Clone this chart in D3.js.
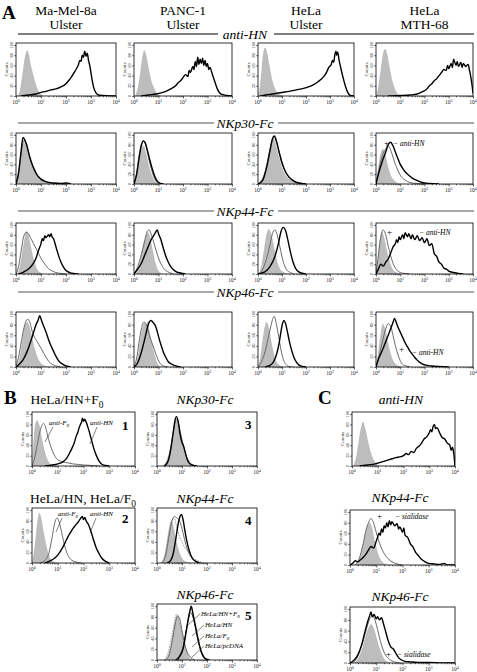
<!DOCTYPE html>
<html><head><meta charset="utf-8">
<script src="https://cdn.jsdelivr.net/npm/d3@7"></script>
<style>body{margin:0;background:#fff}svg{display:block}</style>
</head><body>
<svg id="c" width="477" height="672"></svg>
<script>
// ---------- categories / ticks ----------
const cellLines = ["Ma-Mel-8a", "PANC-1", "HeLa", "HeLa"];
const viruses = ["Ulster", "Ulster", "Ulster", "MTH-68"];
const reagentsA = ["anti-HN", "NKp30-Fc", "NKp44-Fc", "NKp46-Fc"];
const xTickExp = [0, 1, 2, 3, 4];
const yTicks = [0, 20, 40, 60, 80, 100];
const legendB5 = ["HeLa/HN+F", "HeLa/HN", "HeLa/F", "HeLa/pcDNA"];

// ---------- series: [log10 fluorescence, counts] ----------
// Row anti-HN
const a1_fill = [[0.05,0],[0.15,10],[0.25,40],[0.35,75],[0.45,90],[0.5,85],[0.6,60],[0.7,40],[0.8,22],[0.9,10],[1.0,4],[1.1,0]];
const a1_k = [[0.2,0],[0.5,2],[0.8,4],[1.0,7],[1.2,9],[1.4,12],[1.6,14],[1.8,18],[2.0,24],[2.1,30],[2.2,36],[2.3,44],[2.4,52],[2.5,62],[2.55,70],[2.6,68],[2.65,80],[2.7,76],[2.75,88],[2.8,78],[2.85,84],[2.9,70],[2.95,60],[3.0,45],[3.05,30],[3.1,18],[3.2,6],[3.3,2],[3.5,1],[4.0,0]];
const a2_fill = [[0.05,0],[0.15,15],[0.25,45],[0.35,80],[0.42,90],[0.5,80],[0.6,55],[0.7,32],[0.8,18],[0.9,8],[1.0,3],[1.1,0]];
const a2_k = [[0.3,0],[0.6,2],[0.9,4],[1.1,6],[1.3,9],[1.5,14],[1.7,20],[1.8,26],[1.9,30],[2.0,36],[2.1,42],[2.2,38],[2.25,50],[2.3,46],[2.4,58],[2.45,52],[2.5,68],[2.55,58],[2.6,76],[2.65,62],[2.7,72],[2.75,64],[2.8,74],[2.85,60],[2.9,70],[2.95,58],[3.0,64],[3.05,52],[3.1,56],[3.2,42],[3.3,28],[3.4,14],[3.5,6],[3.6,3],[3.8,1],[4.0,0]];
const a3_fill = [[0.0,0],[0.08,20],[0.15,55],[0.22,85],[0.3,95],[0.38,85],[0.48,60],[0.58,35],[0.68,18],[0.8,7],[0.95,2],[1.05,0]];
const a3_k = [[0.1,0],[0.3,2],[0.6,4],[1.0,7],[1.3,9],[1.6,12],[1.9,15],[2.1,18],[2.3,22],[2.5,28],[2.7,36],[2.85,46],[2.95,56],[3.05,62],[3.1,70],[3.15,66],[3.2,80],[3.25,88],[3.28,80],[3.32,86],[3.38,70],[3.45,55],[3.55,35],[3.65,18],[3.75,6],[3.85,1],[4.0,0]];
const a4_fill = [[0.0,0],[0.1,20],[0.2,55],[0.3,85],[0.38,92],[0.45,85],[0.55,60],[0.65,35],[0.75,18],[0.85,7],[0.95,2],[1.05,0]];
const a4_k = [[0.5,0],[1.0,1],[1.4,2],[1.7,4],[1.9,8],[2.1,14],[2.2,20],[2.3,24],[2.4,30],[2.5,34],[2.6,40],[2.7,46],[2.8,52],[2.9,50],[2.95,60],[3.0,54],[3.1,64],[3.15,56],[3.2,72],[3.3,60],[3.35,68],[3.4,58],[3.5,66],[3.55,56],[3.6,64],[3.7,58],[3.8,62],[3.85,52],[3.9,40],[3.95,25],[4.0,5]];
// Row NKp30-Fc
const b1_fill = [[0,0],[0.1,25],[0.2,65],[0.3,85],[0.4,78],[0.5,60],[0.6,42],[0.7,28],[0.8,18],[0.9,11],[1.0,7],[1.2,3],[1.4,1],[1.6,0]];
const b1_g = [[0,0],[0.1,20],[0.2,60],[0.3,88],[0.4,85],[0.5,65],[0.6,45],[0.7,30],[0.8,20],[0.9,13],[1.0,8],[1.2,4],[1.5,1],[1.8,0]];
const b1_k = [[0,0],[0.1,22],[0.2,65],[0.28,95],[0.35,90],[0.45,75],[0.55,55],[0.65,40],[0.75,28],[0.85,18],[1.0,10],[1.2,5],[1.5,2],[1.8,1],[2.0,2],[2.2,0]];
const b2_fill = [[0,0],[0.1,15],[0.2,45],[0.3,70],[0.4,78],[0.5,62],[0.6,40],[0.7,22],[0.8,10],[0.9,4],[1.0,1],[1.1,0]];
const b2_g = [[0,0],[0.1,20],[0.2,55],[0.3,82],[0.4,88],[0.5,75],[0.6,52],[0.7,32],[0.8,16],[0.9,6],[1.0,2],[1.2,0]];
const b2_k = [[0,0],[0.1,18],[0.2,50],[0.3,78],[0.38,88],[0.45,85],[0.55,68],[0.65,48],[0.75,30],[0.85,15],[0.95,6],[1.05,2],[1.2,0]];
const b3_fill = [[0,0],[0.15,10],[0.3,30],[0.45,65],[0.55,85],[0.65,95],[0.75,80],[0.85,60],[0.95,42],[1.05,28],[1.15,18],[1.3,10],[1.5,4],[1.7,1],[1.9,0]];
const b3_g = [[0,0],[0.2,10],[0.35,35],[0.5,70],[0.6,90],[0.7,96],[0.8,82],[0.9,62],[1.0,45],[1.1,30],[1.2,20],[1.35,11],[1.5,5],[1.7,2],[2.0,0]];
const b3_k = [[0,0],[0.2,8],[0.35,32],[0.5,68],[0.6,92],[0.68,98],[0.78,85],[0.88,65],[0.98,46],[1.08,32],[1.2,20],[1.35,11],[1.5,6],[1.7,2],[2.0,0]];
const b4_fill = [[0,0],[0.08,30],[0.18,60],[0.28,72],[0.38,62],[0.48,40],[0.58,22],[0.7,10],[0.85,3],[1.0,0]];
const b4_g = [[0,0],[0.1,25],[0.25,55],[0.4,72],[0.5,78],[0.6,70],[0.7,55],[0.8,40],[0.9,28],[1.0,18],[1.2,8],[1.4,3],[1.7,1],[2.0,0]];
const b4_k = [[0,0],[0.1,20],[0.25,45],[0.4,65],[0.5,80],[0.6,85],[0.7,78],[0.8,65],[0.9,52],[1.0,40],[1.1,32],[1.2,25],[1.35,18],[1.5,12],[1.7,7],[1.9,3],[2.2,1],[2.6,0]];
// Row NKp44-Fc
const c1_fill = [[0.05,0],[0.15,15],[0.25,45],[0.35,75],[0.42,88],[0.5,80],[0.6,55],[0.7,32],[0.8,15],[0.9,6],[1.0,2],[1.1,0]];
const c1_g = [[0,0],[0.1,15],[0.2,45],[0.3,75],[0.4,85],[0.5,82],[0.6,72],[0.7,62],[0.8,52],[0.9,42],[1.0,32],[1.1,24],[1.2,17],[1.3,11],[1.45,6],[1.6,3],[1.8,1],[2.0,0]];
const c1_k = [[0.1,0],[0.3,4],[0.5,10],[0.7,22],[0.8,32],[0.9,48],[1.0,62],[1.05,72],[1.1,68],[1.15,78],[1.2,74],[1.3,80],[1.35,76],[1.4,82],[1.45,75],[1.5,72],[1.6,55],[1.7,38],[1.8,24],[1.9,14],[2.0,7],[2.15,3],[2.3,1],[2.5,0]];
const c2_fill = [[0.05,0],[0.2,15],[0.3,40],[0.4,65],[0.5,82],[0.58,85],[0.68,70],[0.78,45],[0.88,22],[0.98,8],[1.1,2],[1.2,0]];
const c2_g = [[0,0],[0.15,15],[0.3,40],[0.45,70],[0.55,88],[0.62,90],[0.72,78],[0.82,62],[0.92,45],[1.02,30],[1.15,16],[1.3,7],[1.45,3],[1.6,0]];
const c2_k = [[0,0],[0.15,10],[0.3,22],[0.45,40],[0.6,58],[0.7,70],[0.8,78],[0.88,85],[0.95,90],[1.0,82],[1.1,70],[1.2,52],[1.3,36],[1.4,24],[1.5,15],[1.6,9],[1.75,4],[1.9,2],[2.1,0]];
const c3_fill = [[0.05,0],[0.15,20],[0.25,50],[0.35,80],[0.45,92],[0.55,82],[0.65,60],[0.75,35],[0.85,18],[0.95,8],[1.1,3],[1.3,0]];
const c3_g = [[0,0],[0.2,10],[0.35,30],[0.5,60],[0.6,82],[0.7,90],[0.8,80],[0.9,58],[1.0,35],[1.1,18],[1.2,8],[1.35,3],[1.5,0]];
const c3_k = [[0,0],[0.3,5],[0.5,15],[0.7,35],[0.85,62],[0.95,85],[1.05,95],[1.15,88],[1.25,68],[1.35,45],[1.45,26],[1.55,13],[1.65,6],[1.8,2],[2.0,0]];
const c4_fill = [[0,0],[0.08,35],[0.15,70],[0.25,85],[0.35,72],[0.45,48],[0.55,28],[0.65,14],[0.75,6],[0.9,2],[1.0,0]];
const c4_g = [[0,0],[0.08,30],[0.18,70],[0.3,90],[0.4,80],[0.5,58],[0.6,38],[0.7,22],[0.8,12],[0.9,6],[1.0,3],[1.2,1],[1.4,0]];
const c4_k = [[0,0],[0.1,10],[0.2,20],[0.3,16],[0.4,24],[0.5,30],[0.6,42],[0.7,55],[0.8,62],[0.85,70],[0.9,64],[0.95,76],[1.0,70],[1.1,80],[1.15,72],[1.2,84],[1.3,76],[1.35,82],[1.45,72],[1.5,80],[1.6,70],[1.7,78],[1.8,68],[1.9,74],[2.0,64],[2.1,72],[2.2,58],[2.3,62],[2.4,42],[2.5,36],[2.6,24],[2.7,20],[2.8,12],[2.9,10],[3.0,6],[3.2,3],[3.4,1],[3.6,0]];
// Row NKp46-Fc
const d1_fill = [[0.05,0],[0.15,20],[0.25,50],[0.35,78],[0.45,85],[0.55,75],[0.65,55],[0.75,35],[0.85,20],[0.95,10],[1.1,4],[1.3,1],[1.5,0]];
const d1_g = [[0,0],[0.1,18],[0.22,50],[0.35,80],[0.45,90],[0.53,88],[0.62,72],[0.72,58],[0.82,50],[0.92,42],[1.02,34],[1.12,25],[1.22,17],[1.32,10],[1.45,5],[1.6,2],[1.8,0]];
const d1_k = [[0,0],[0.15,6],[0.3,15],[0.45,30],[0.6,50],[0.7,65],[0.8,80],[0.88,88],[0.95,97],[1.02,88],[1.1,78],[1.2,66],[1.3,52],[1.4,40],[1.5,30],[1.6,20],[1.7,12],[1.85,6],[2.0,2],[2.2,0]];
const d2_fill = [[0.05,0],[0.15,20],[0.25,50],[0.35,75],[0.45,85],[0.5,78],[0.55,86],[0.65,65],[0.75,42],[0.85,22],[0.95,8],[1.05,2],[1.2,0]];
const d2_g = [[0,0],[0.1,15],[0.2,45],[0.3,72],[0.4,85],[0.48,82],[0.58,68],[0.68,52],[0.78,40],[0.88,26],[0.98,14],[1.08,6],[1.2,2],[1.4,0]];
const d2_k = [[0,0],[0.15,8],[0.3,28],[0.45,55],[0.55,75],[0.62,85],[0.7,88],[0.78,84],[0.85,80],[0.92,72],[1.0,58],[1.1,42],[1.2,28],[1.3,18],[1.4,10],[1.55,5],[1.7,2],[1.9,0]];
const d3_fill = [[0.0,0],[0.1,20],[0.2,55],[0.3,80],[0.37,85],[0.45,75],[0.55,50],[0.65,28],[0.75,12],[0.85,5],[0.95,2],[1.05,0]];
const d3_g = [[0,0],[0.15,10],[0.3,30],[0.45,60],[0.55,80],[0.62,92],[0.68,96],[0.76,82],[0.86,58],[0.96,32],[1.06,14],[1.16,5],[1.3,1],[1.45,0]];
const d3_k = [[0.3,0],[0.5,3],[0.65,10],[0.78,25],[0.88,45],[0.96,68],[1.02,82],[1.08,88],[1.15,82],[1.22,68],[1.3,50],[1.4,32],[1.5,18],[1.6,9],[1.7,4],[1.85,1],[2.0,0]];
const d4_fill = [[0,0],[0.08,25],[0.18,60],[0.28,82],[0.38,72],[0.48,50],[0.58,30],[0.68,15],[0.8,6],[0.95,2],[1.1,0]];
const d4_g = [[0,0],[0.1,15],[0.25,45],[0.4,72],[0.5,82],[0.6,78],[0.7,60],[0.8,40],[0.9,24],[1.0,12],[1.1,5],[1.25,2],[1.4,0]];
const d4_k = [[0,0],[0.1,15],[0.2,25],[0.3,36],[0.42,50],[0.52,62],[0.62,74],[0.7,84],[0.76,92],[0.82,86],[0.9,76],[1.0,66],[1.1,56],[1.2,46],[1.3,38],[1.4,30],[1.5,24],[1.6,18],[1.7,13],[1.8,9],[1.9,6],[2.1,3],[2.3,2],[2.6,1],[3.0,0]];
// Panel B
const e1_fill = [[0,0],[0.05,40],[0.12,80],[0.2,88],[0.28,80],[0.38,55],[0.48,32],[0.58,15],[0.7,5],[0.85,1],[1.0,0]];
const e1_g = [[0,0],[0.1,15],[0.2,40],[0.3,65],[0.38,78],[0.45,82],[0.52,76],[0.6,60],[0.7,42],[0.8,28],[0.9,18],[1.0,12],[1.2,8],[1.4,6],[1.6,4],[1.8,3],[2.0,2],[2.3,1],[2.6,0]];
const e1_k = [[0.5,0],[0.8,2],[1.0,4],[1.2,8],[1.35,15],[1.45,24],[1.55,34],[1.65,46],[1.72,58],[1.78,65],[1.82,72],[1.88,80],[1.92,84],[1.96,92],[2.0,86],[2.04,90],[2.1,85],[2.2,70],[2.3,52],[2.4,34],[2.5,20],[2.6,10],[2.7,4],[2.85,1],[3.0,0]];
const e2_fill = [[0,0],[0.1,30],[0.2,75],[0.28,95],[0.36,85],[0.45,60],[0.55,35],[0.65,16],[0.75,6],[0.9,1],[1.0,0]];
const e2_g = [[0.3,0],[0.5,5],[0.65,18],[0.75,40],[0.85,68],[0.92,82],[0.98,85],[1.05,78],[1.15,58],[1.25,36],[1.35,20],[1.45,10],[1.55,5],[1.7,2],[1.9,0]];
const e2_k = [[0.5,0],[0.7,4],[0.85,8],[1.0,15],[1.1,22],[1.2,30],[1.3,40],[1.4,50],[1.5,58],[1.6,66],[1.7,72],[1.8,78],[1.88,84],[1.95,88],[2.0,82],[2.05,86],[2.1,80],[2.2,72],[2.3,58],[2.4,42],[2.5,28],[2.6,18],[2.7,10],[2.8,5],[2.9,2],[3.0,0]];
const e3_fill = [[0.2,0],[0.35,8],[0.5,30],[0.6,55],[0.7,78],[0.78,88],[0.85,84],[0.95,62],[1.05,38],[1.15,20],[1.25,9],[1.4,3],[1.6,0]];
const e3_g = [[0.3,0],[0.45,12],[0.55,35],[0.65,65],[0.73,85],[0.8,90],[0.88,78],[0.98,55],[1.08,35],[1.18,18],[1.3,7],[1.45,2],[1.6,0]];
const e3_k = [[0.3,0],[0.45,10],[0.55,32],[0.65,65],[0.72,88],[0.78,95],[0.85,85],[0.92,62],[1.0,45],[1.05,40],[1.12,28],[1.2,14],[1.3,5],[1.45,1],[1.6,0]];
const e4_fill = [[0.15,0],[0.3,15],[0.42,50],[0.5,72],[0.58,80],[0.66,70],[0.75,48],[0.85,28],[0.95,14],[1.05,6],[1.2,2],[1.4,0]];
const e4_d = [[0.2,0],[0.35,20],[0.5,60],[0.6,82],[0.68,85],[0.78,70],[0.9,50],[1.0,40],[1.1,30],[1.25,22],[1.4,12],[1.6,5],[1.8,1],[2.0,0]];
const e4_g = [[0.2,0],[0.35,15],[0.5,55],[0.6,80],[0.7,88],[0.8,85],[0.9,80],[1.0,65],[1.1,45],[1.2,28],[1.3,16],[1.45,7],[1.6,2],[1.8,0]];
const e4_k = [[0.4,0],[0.55,5],[0.65,18],[0.75,45],[0.85,75],[0.92,88],[0.98,92],[1.05,80],[1.12,60],[1.2,40],[1.3,22],[1.4,10],[1.55,3],[1.7,0]];
const e5_fill = [[0.3,0],[0.45,10],[0.58,35],[0.68,62],[0.76,78],[0.82,82],[0.9,72],[1.0,50],[1.1,28],[1.2,12],[1.3,4],[1.45,0]];
const e5_d = [[0.3,0],[0.45,15],[0.58,42],[0.7,70],[0.78,85],[0.86,80],[0.96,58],[1.06,35],[1.16,18],[1.3,6],[1.5,0]];
const e5_g = [[0.35,0],[0.5,12],[0.62,38],[0.74,70],[0.82,82],[0.9,78],[1.0,55],[1.1,32],[1.2,15],[1.35,5],[1.5,0]];
const e5_k2 = [[0.75,0],[0.9,8],[1.05,25],[1.15,50],[1.25,75],[1.33,88],[1.4,85],[1.5,68],[1.6,45],[1.7,25],[1.8,10],[1.9,3],[2.05,0]];
const e5_k = [[0.75,0],[0.9,6],[1.05,22],[1.15,48],[1.25,76],[1.32,92],[1.37,100],[1.43,88],[1.53,65],[1.63,42],[1.73,22],[1.83,9],[1.95,2],[2.1,0]];
// Panel C
const f1_fill = [[0.05,0],[0.15,15],[0.25,45],[0.35,75],[0.43,85],[0.52,72],[0.62,48],[0.72,28],[0.82,14],[0.92,6],[1.05,1],[1.15,0]];
const f1_k = [[0.3,0],[0.6,2],[0.9,4],[1.1,7],[1.3,10],[1.5,13],[1.7,16],[1.9,18],[2.0,20],[2.1,24],[2.2,22],[2.3,28],[2.4,26],[2.5,34],[2.6,38],[2.7,44],[2.8,52],[2.9,56],[3.0,64],[3.05,70],[3.1,66],[3.15,76],[3.2,80],[3.25,72],[3.3,74],[3.4,64],[3.5,55],[3.6,52],[3.7,44],[3.8,40],[3.85,30],[3.9,36],[3.95,25],[4.0,0]];
const f2_fill = [[0.2,0],[0.35,10],[0.48,35],[0.58,60],[0.68,76],[0.75,80],[0.82,74],[0.92,52],[1.02,30],[1.12,15],[1.25,5],[1.4,1],[1.5,0]];
const f2_g = [[0.2,0],[0.35,12],[0.5,40],[0.62,68],[0.72,82],[0.8,88],[0.88,82],[0.98,65],[1.08,48],[1.18,34],[1.3,22],[1.45,12],[1.6,6],[1.8,2],[2.0,0]];
const f2_k = [[0,0],[0.1,3],[0.2,8],[0.3,6],[0.4,10],[0.5,14],[0.6,20],[0.7,28],[0.8,35],[0.9,32],[1.0,45],[1.05,52],[1.1,60],[1.15,56],[1.2,68],[1.25,62],[1.3,74],[1.35,70],[1.4,80],[1.45,72],[1.5,84],[1.55,76],[1.6,82],[1.7,74],[1.8,78],[1.85,68],[1.9,72],[2.0,62],[2.05,70],[2.1,56],[2.2,52],[2.3,40],[2.4,34],[2.5,24],[2.6,18],[2.7,12],[2.8,8],[2.9,5],[3.0,3],[3.2,2],[3.4,1],[3.6,3],[3.7,0],[4.0,0]];
const f3_fill = [[0.15,0],[0.3,8],[0.45,25],[0.58,48],[0.7,65],[0.8,72],[0.9,66],[1.0,50],[1.1,32],[1.2,18],[1.3,8],[1.45,2],[1.6,0]];
const f3_g = [[0.1,0],[0.25,8],[0.4,25],[0.55,50],[0.68,72],[0.78,85],[0.86,88],[0.95,80],[1.05,62],[1.15,42],[1.25,26],[1.35,15],[1.5,7],[1.7,2],[1.9,0]];
const f3_k = [[0,0],[0.15,5],[0.3,15],[0.45,35],[0.58,60],[0.68,78],[0.75,88],[0.8,95],[0.85,86],[0.92,90],[1.0,82],[1.05,86],[1.12,80],[1.2,84],[1.28,72],[1.35,60],[1.45,42],[1.55,30],[1.65,26],[1.75,18],[1.85,10],[1.95,6],[2.1,3],[2.3,2],[2.6,1],[3.0,1],[3.5,0],[4.0,0]];

// ---------- drawing ----------
const SERIF = "'Liberation Serif','Times New Roman',Times,serif";
const svg = d3.select('#c');
let clipN = 0;

function text(x, y, str, o = {}) {
  const t = svg.append('text').attr('x', x).attr('y', y)
    .attr('font-family', SERIF).attr('font-size', o.size || 13)
    .attr('text-anchor', o.anchor || 'start')
    .attr('fill', o.fill || '#000');
  if (o.italic) t.attr('font-style', 'italic');
  if (o.bold) t.attr('font-weight', 'bold');
  t.append('tspan').text(str);
  if (o.sub) t.append('tspan').attr('dy', (o.size || 13) * 0.3).attr('font-size', (o.size || 13) * 0.7).text(o.sub);
  if (o.after) t.append('tspan').attr('dy', -(o.size || 13) * 0.3).text(o.after);
  return t;
}

function panel(box, layers) {
  const x = d3.scaleLinear().domain([0, 4]).range([box.x, box.x + box.w]);
  const y = d3.scaleLinear().domain([0, 104]).range([box.y + box.h, box.y]);
  const id = 'clip' + (clipN++);
  svg.append('clipPath').attr('id', id).append('rect')
    .attr('x', box.x).attr('y', box.y).attr('width', box.w).attr('height', box.h);
  const g = svg.append('g').attr('clip-path', `url(#${id})`);
  const area = d3.area().x(d => x(d[0])).y0(y(0)).y1(d => y(d[1])).curve(d3.curveMonotoneX);
  const line = d3.line().x(d => x(d[0])).y(d => y(d[1])).curve(d3.curveMonotoneX);
  const styles = {
    d: { stroke: '#8a8a8a', w: 0.9, dash: '1.5,1.2' },
    g: { stroke: '#6a6a6a', w: 1.0 },
    k2: { stroke: '#333', w: 1.0 },
    k: { stroke: '#000', w: 1.4 }
  };
  layers.forEach(L => {
    if (L.kind === 'fill') {
      g.append('path').datum(L.data).attr('d', area).attr('fill', '#bdbdbd');
    } else {
      const s = styles[L.kind];
      const p = g.append('path').datum(L.data).attr('d', line).attr('fill', 'none')
        .attr('stroke', s.stroke).attr('stroke-width', s.w).attr('stroke-linejoin', 'round');
      if (s.dash) p.attr('stroke-dasharray', s.dash);
    }
  });
  svg.append('rect').attr('x', box.x).attr('y', box.y).attr('width', box.w).attr('height', box.h)
    .attr('fill', 'none').attr('stroke', '#000').attr('stroke-width', 0.8);

  // x axis: major + minor log ticks
  const minor = [];
  for (let e = 0; e < 4; e++) for (let m = 2; m <= 9; m++) minor.push(e + Math.log10(m));
  const ax = svg.append('g').attr('transform', `translate(0,${box.y + box.h})`);
  ax.call(d3.axisBottom(x).tickValues(xTickExp).tickSize(2.5).tickFormat(''));
  const axm = svg.append('g').attr('transform', `translate(0,${box.y + box.h})`);
  axm.call(d3.axisBottom(x).tickValues(minor).tickSize(1.3).tickFormat(''));
  [ax, axm].forEach(a => { a.select('.domain').remove(); a.selectAll('line').attr('stroke-width', 0.6); });
  xTickExp.forEach(e => {
    const t = svg.append('text').attr('x', x(e)).attr('y', box.y + box.h + 8)
      .attr('font-family', SERIF).attr('font-size', 5.5).attr('text-anchor', 'middle').attr('fill', '#222');
    t.append('tspan').text('10');
    t.append('tspan').attr('dy', -2.2).attr('font-size', 4).text(e);
  });
  // y axis
  const ay = svg.append('g').attr('transform', `translate(${box.x},0)`);
  ay.call(d3.axisLeft(y).tickValues(yTicks).tickSize(1.8).tickFormat(''));
  ay.select('.domain').remove();
  ay.selectAll('line').attr('stroke-width', 0.6);
  yTicks.forEach(v => {
    svg.append('text').attr('transform', `translate(${box.x - 3},${y(v)}) rotate(-90)`)
      .attr('font-family', SERIF).attr('font-size', 4.5).attr('text-anchor', 'middle').attr('fill', '#222').text(v);
  });
  svg.append('text').attr('transform', `translate(${box.x - 8},${box.y + box.h / 2}) rotate(-90)`)
    .attr('font-family', SERIF).attr('font-size', 5).attr('text-anchor', 'middle').attr('fill', '#222').text('Counts');
  return { x, y };
}

// ---------- Section A ----------
const colX = [16, 134, 258, 376], colW = [100, 98, 96, 97];
const rowY = [43, 133, 223, 312], rowH = [53, 51, 51, 55];
const rowLabelY = [34, 123, 211, 292];
const colCenter = colX.map((v, i) => v + colW[i] / 2);

text(2, 19, 'A', { size: 19, bold: true });
cellLines.forEach((c, i) => {
  text(colCenter[i], 15, c, { anchor: 'middle', size: 13.5 });
  text(colCenter[i], 29, viruses[i], { anchor: 'middle', size: 13.5 });
});
reagentsA.forEach((r, i) => {
  const col = i === 0 ? '#000' : '#555';
  const cx = 245;
  text(cx, rowLabelY[i] + 4.5, r, { anchor: 'middle', italic: true, size: 13.5 });
  const half = i === 0 ? 27 : 31;
  svg.append('line').attr('x1', 18).attr('x2', cx - half).attr('y1', rowLabelY[i]).attr('y2', rowLabelY[i]).attr('stroke', col).attr('stroke-width', 1);
  svg.append('line').attr('x1', cx + half + 2).attr('x2', 474).attr('y1', rowLabelY[i]).attr('y2', rowLabelY[i]).attr('stroke', col).attr('stroke-width', 1);
});

const gridA = [
  [[a1_fill, null, a1_k], [a2_fill, null, a2_k], [a3_fill, null, a3_k], [a4_fill, null, a4_k]],
  [[b1_fill, b1_g, b1_k], [b2_fill, b2_g, b2_k], [b3_fill, b3_g, b3_k], [b4_fill, b4_g, b4_k]],
  [[c1_fill, c1_g, c1_k], [c2_fill, c2_g, c2_k], [c3_fill, c3_g, c3_k], [c4_fill, c4_g, c4_k]],
  [[d1_fill, d1_g, d1_k], [d2_fill, d2_g, d2_k], [d3_fill, d3_g, d3_k], [d4_fill, d4_g, d4_k]]
];
gridA.forEach((row, r) => row.forEach((cell, c) => {
  const layers = [{ kind: 'fill', data: cell[0] }];
  if (cell[1]) layers.push({ kind: 'g', data: cell[1] });
  layers.push({ kind: 'k', data: cell[2] });
  panel({ x: colX[c], y: rowY[r], w: colW[c], h: rowH[r] }, layers);
}));
// +/- annotations in HeLa MTH-68 column
text(384, 146, '+', { size: 9 });
text(393, 146, '− anti-HN', { size: 7.5, italic: true });
text(387, 235, '+', { size: 9 });
text(419, 235, '− anti-HN', { size: 7.5, italic: true });
text(399, 352, '+', { size: 9 });
text(412, 355, '− anti-HN', { size: 7.5, italic: true });

// ---------- Section B ----------
text(4, 404, 'B', { size: 19, bold: true });
text(67, 404, 'HeLa/HN+F', { anchor: 'middle', size: 13.5, sub: '0' });
text(205, 404, 'NKp30-Fc', { anchor: 'middle', size: 13.5, italic: true });
text(83, 503, 'HeLa/HN, HeLa/F', { anchor: 'middle', size: 13.5, sub: '0' });
text(205, 503, 'NKp44-Fc', { anchor: 'middle', size: 13.5, italic: true });
text(205, 599, 'NKp46-Fc', { anchor: 'middle', size: 13.5, italic: true });

panel({ x: 32, y: 412, w: 103, h: 54 }, [{ kind: 'fill', data: e1_fill }, { kind: 'g', data: e1_g }, { kind: 'k', data: e1_k }]);
panel({ x: 32, y: 508, w: 103, h: 55 }, [{ kind: 'fill', data: e2_fill }, { kind: 'g', data: e2_g }, { kind: 'k', data: e2_k }]);
panel({ x: 157, y: 412, w: 100, h: 54 }, [{ kind: 'fill', data: e3_fill }, { kind: 'g', data: e3_g }, { kind: 'k', data: e3_k }]);
panel({ x: 157, y: 508, w: 100, h: 55 }, [{ kind: 'fill', data: e4_fill }, { kind: 'd', data: e4_d }, { kind: 'g', data: e4_g }, { kind: 'k', data: e4_k }]);
panel({ x: 157, y: 604, w: 100, h: 56 }, [{ kind: 'fill', data: e5_fill }, { kind: 'd', data: e5_d }, { kind: 'g', data: e5_g }, { kind: 'k2', data: e5_k2 }, { kind: 'k', data: e5_k }]);

function leader(x1, y1, x2, y2) {
  svg.append('line').attr('x1', x1).attr('y1', y1).attr('x2', x2).attr('y2', y2).attr('stroke', '#333').attr('stroke-width', 0.6);
}
text(49, 425, 'anti-F', { size: 7, italic: true, sub: '0' });
leader(53, 427, 45, 442);
text(90, 425, 'anti-HN', { size: 7, italic: true });
leader(97, 427, 90, 444);
text(122, 430, '1', { size: 13, bold: true });
text(58, 516, 'anti-F', { size: 7, italic: true, sub: '0' });
leader(62, 518, 56, 532);
text(90, 516, 'anti-HN', { size: 7, italic: true });
leader(96, 518, 90, 533);
text(122, 523, '2', { size: 13, bold: true });
text(245, 429, '3', { size: 13, bold: true });
text(245, 525, '4', { size: 13, bold: true });
text(245, 620, '5', { size: 13, bold: true });
const legY = [616, 627, 638, 648], legX = [201, 205, 205, 205];
legendB5.forEach((l, i) => {
  text(legX[i], legY[i], l, { size: 7, italic: true, sub: (i === 0 || i === 2) ? '0' : null });
  leader(legX[i] - 1, legY[i] - 2, legX[i] - 13, legY[i] + 9);
});

// ---------- Section C ----------
text(318, 404, 'C', { size: 19, bold: true });
text(401, 404, 'anti-HN', { anchor: 'middle', size: 13.5, italic: true });
text(400, 502, 'NKp44-Fc', { anchor: 'middle', size: 13.5, italic: true });
text(400, 601, 'NKp46-Fc', { anchor: 'middle', size: 13.5, italic: true });
panel({ x: 352, y: 412, w: 103, h: 54 }, [{ kind: 'fill', data: f1_fill }, { kind: 'k', data: f1_k }]);
panel({ x: 350, y: 510, w: 105, h: 55 }, [{ kind: 'fill', data: f2_fill }, { kind: 'g', data: f2_g }, { kind: 'k', data: f2_k }]);
panel({ x: 350, y: 607, w: 105, h: 56 }, [{ kind: 'fill', data: f3_fill }, { kind: 'g', data: f3_g }, { kind: 'k', data: f3_k }]);
text(377, 519, '+', { size: 9 });
text(395, 519, '− sialidase', { size: 7.5, italic: true });
text(386, 657, '+', { size: 9 });
text(397, 657, '− sialidase', { size: 7.5, italic: true });
</script>
</body></html>
